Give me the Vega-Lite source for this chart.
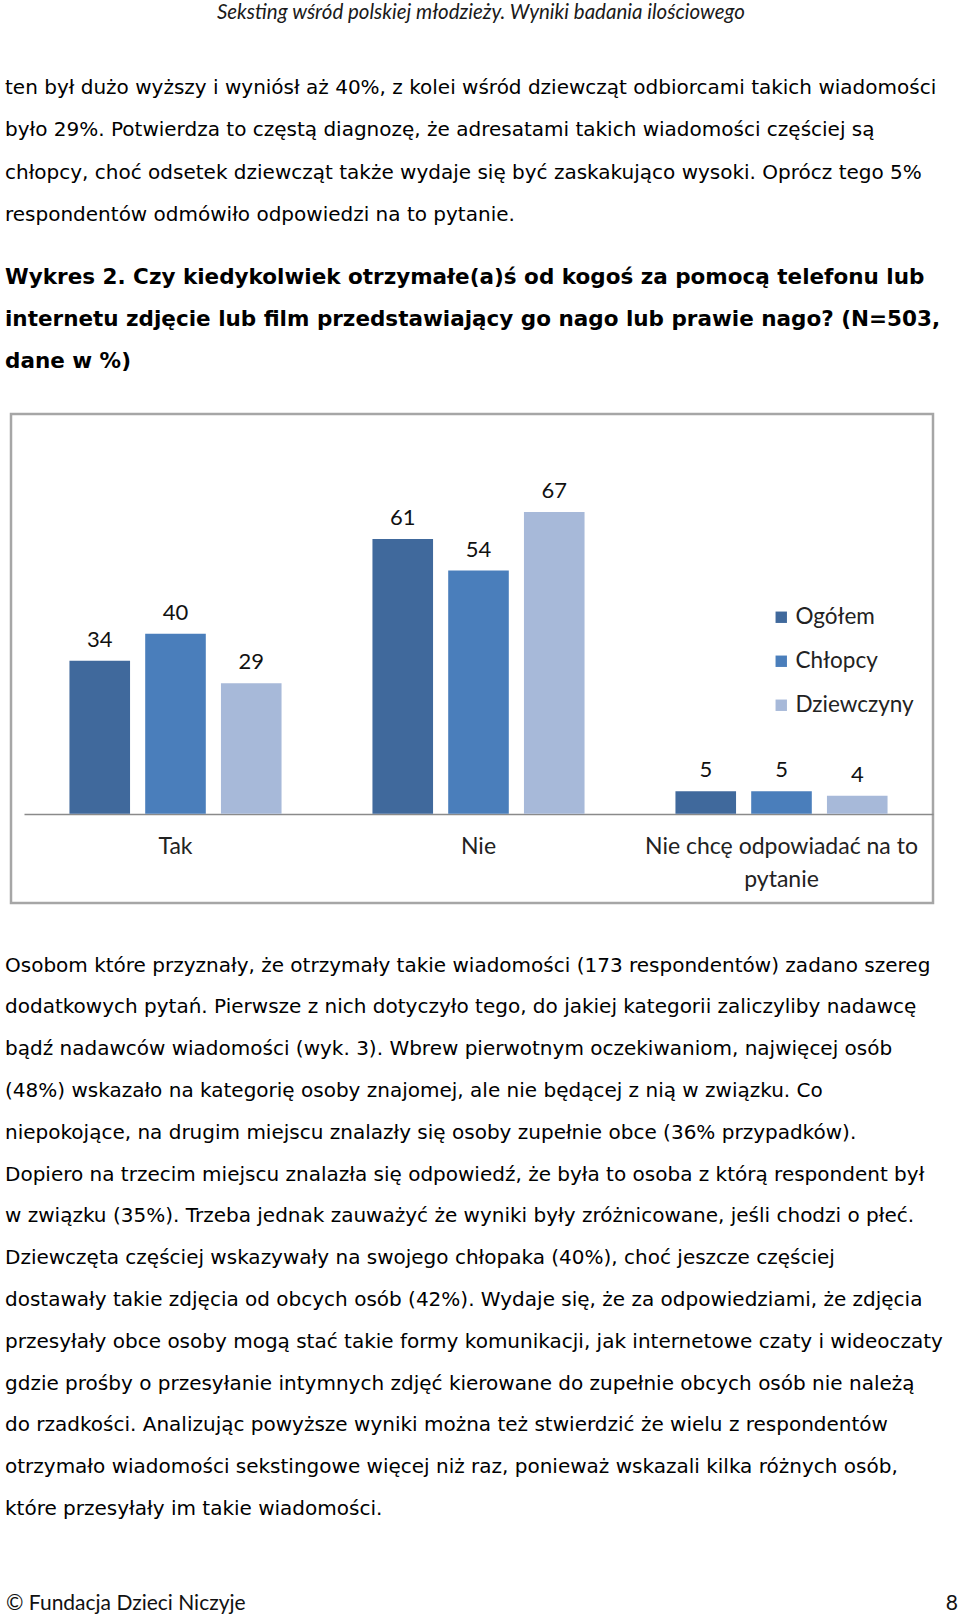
{
  "$schema": "https://vega.github.io/schema/vega-lite/v6.json",
  "background": "white",
  "padding": {"left": 3, "top": 3, "right": 0, "bottom": 0},
  "autosize": {"type": "pad"},
  "title": {
    "text": "Seksting wśród polskiej młodzieży. Wyniki badania ilościowego",
    "anchor": "middle", "font": "Lato", "fontStyle": "italic",
    "fontWeight": "normal", "fontSize": 20.5, "color": "#1a1a1a", "offset": 53, "dx": 0
  },
  "spacing": 50,
  "vconcat": [
    {
      "width": 922,
      "height": 489,
      "view": {"stroke": "#A6A6A6", "strokeWidth": 2.5},
      "title": {
        "text": [
          "ten był dużo wyższy i wyniósł aż 40%, z kolei wśród dziewcząt odbiorcami takich wiadomości",
          "było 29%. Potwierdza to częstą diagnozę, że adresatami takich wiadomości częściej są",
          "chłopcy, choć odsetek dziewcząt także wydaje się być zaskakująco wysoki. Oprócz tego 5%",
          "respondentów odmówiło odpowiedzi na to pytanie."
        ],
        "subtitle": [
          "Wykres 2. Czy kiedykolwiek otrzymałe(a)ś od kogoś za pomocą telefonu lub",
          "internetu zdjęcie lub film przedstawiający go nago lub prawie nago? (N=503,",
          "dane w %)"
        ],
        "anchor": "start", "frame": "group", "dx": -6,
        "font": "DejaVu Sans", "fontSize": 20, "fontWeight": "normal", "color": "#000000",
        "lineHeight": 42.3,
        "subtitleFont": "DejaVu Sans", "subtitleFontSize": 21.5, "subtitleFontWeight": "bold",
        "subtitleColor": "#000000", "subtitleLineHeight": 42.3, "subtitlePadding": 42,
        "offset": 41
      },
      "data": {
        "values": [
          {"cat": "Tak", "grp": "Ogółem", "value": 34},
          {"cat": "Tak", "grp": "Chłopcy", "value": 40},
          {"cat": "Tak", "grp": "Dziewczyny", "value": 29},
          {"cat": "Nie", "grp": "Ogółem", "value": 61},
          {"cat": "Nie", "grp": "Chłopcy", "value": 54},
          {"cat": "Nie", "grp": "Dziewczyny", "value": 67},
          {"cat": "Nie chcę odpowiadać na to pytanie", "grp": "Ogółem", "value": 5},
          {"cat": "Nie chcę odpowiadać na to pytanie", "grp": "Chłopcy", "value": 5},
          {"cat": "Nie chcę odpowiadać na to pytanie", "grp": "Dziewczyny", "value": 4}
        ]
      },
      "encoding": {
        "x": {
          "field": "cat", "type": "nominal", "sort": null,
          "scale": {"range": [13, 922], "paddingInner": 0, "paddingOuter": 0},
          "axis": {
            "title": null, "orient": "bottom", "offset": -89, "ticks": false,
            "domainColor": "#8A8A8A", "domainWidth": 1.5, "labelAngle": 0,
            "labelFont": "Lato", "labelFontSize": 23, "labelColor": "#222222",
            "labelPadding": 21, "labelLineHeight": 33, "labelLimit": 0, "grid": false,
            "labelExpr": "datum.value == 'Nie chcę odpowiadać na to pytanie' ? ['Nie chcę odpowiadać na to', 'pytanie'] : datum.label"
          }
        },
        "xOffset": {
          "field": "grp", "type": "nominal", "sort": ["Ogółem", "Chłopcy", "Dziewczyny"],
          "scale": {"paddingInner": 0.2, "paddingOuter": 0.6}
        },
        "y": {
          "field": "value", "type": "quantitative",
          "scale": {"domain": [-19.8, 88.76], "nice": false, "zero": false},
          "axis": null
        }
      },
      "layer": [
        {
          "mark": {"type": "bar"},
          "encoding": {
            "y2": {"datum": 0},
            "color": {
              "field": "grp", "type": "nominal",
              "scale": {"domain": ["Ogółem", "Chłopcy", "Dziewczyny"], "range": ["#40699C", "#4A7EBB", "#A7B9D9"]},
              "legend": {
                "orient": "none", "legendX": 759, "legendY": 192, "title": null,
                "symbolType": "square", "symbolSize": 130, "symbolStrokeWidth": 0,
                "labelFont": "Lato", "labelFontSize": 22.5, "labelColor": "#222222",
                "rowPadding": 21, "labelOffset": 3, "padding": 0
              }
            }
          }
        },
        {
          "mark": {"type": "text", "dy": -14, "baseline": "alphabetic", "font": "Lato", "fontSize": 22, "color": "#111111"},
          "encoding": {"text": {"field": "value", "type": "quantitative"}}
        }
      ]
    },
    {
      "width": 947,
      "height": 34,
      "view": {"stroke": null},
      "title": {
        "text": [
          "Osobom które przyznały, że otrzymały takie wiadomości (173 respondentów) zadano szereg",
          "dodatkowych pytań. Pierwsze z nich dotyczyło tego, do jakiej kategorii zaliczyliby nadawcę",
          "bądź nadawców wiadomości (wyk. 3). Wbrew pierwotnym oczekiwaniom, najwięcej osób",
          "(48%) wskazało na kategorię osoby znajomej, ale nie będącej z nią w związku. Co",
          "niepokojące, na drugim miejscu znalazły się osoby zupełnie obce (36% przypadków).",
          "Dopiero na trzecim miejscu znalazła się odpowiedź, że była to osoba z którą respondent był",
          "w związku (35%). Trzeba jednak zauważyć że wyniki były zróżnicowane, jeśli chodzi o płeć.",
          "Dziewczęta częściej wskazywały na swojego chłopaka (40%), choć jeszcze częściej",
          "dostawały takie zdjęcia od obcych osób (42%). Wydaje się, że za odpowiedziami, że zdjęcia",
          "przesyłały obce osoby mogą stać takie formy komunikacji, jak internetowe czaty i wideoczaty",
          "gdzie prośby o przesyłanie intymnych zdjęć kierowane do zupełnie obcych osób nie należą",
          "do rzadkości. Analizując powyższe wyniki można też stwierdzić że wielu z respondentów",
          "otrzymało wiadomości sekstingowe więcej niż raz, ponieważ wskazali kilka różnych osób,",
          "które przesyłały im takie wiadomości."
        ],
        "anchor": "start", "frame": "group", "dx": -6,
        "font": "DejaVu Sans", "fontSize": 20, "fontWeight": "normal", "color": "#000000",
        "lineHeight": 41.8, "offset": 68
      },
      "layer": [
        {
          "data": {"values": [{"side": 0, "text": "© Fundacja Dzieci Niczyje"}]},
          "mark": {"type": "text", "align": "left", "baseline": "middle", "font": "Lato", "fontSize": 21, "color": "#111111"},
          "encoding": {
            "x": {"field": "side", "type": "quantitative", "scale": {"domain": [0, 1], "range": [-5, 947]}, "axis": null},
            "text": {"field": "text", "type": "nominal"}
          }
        },
        {
          "data": {"values": [{"side": 1, "text": "8"}]},
          "mark": {"type": "text", "align": "right", "baseline": "middle", "font": "Lato", "fontSize": 21, "color": "#111111"},
          "encoding": {
            "x": {"field": "side", "type": "quantitative", "scale": {"domain": [0, 1], "range": [-5, 947]}, "axis": null},
            "text": {"field": "text", "type": "nominal"}
          }
        }
      ]
    }
  ]
}
